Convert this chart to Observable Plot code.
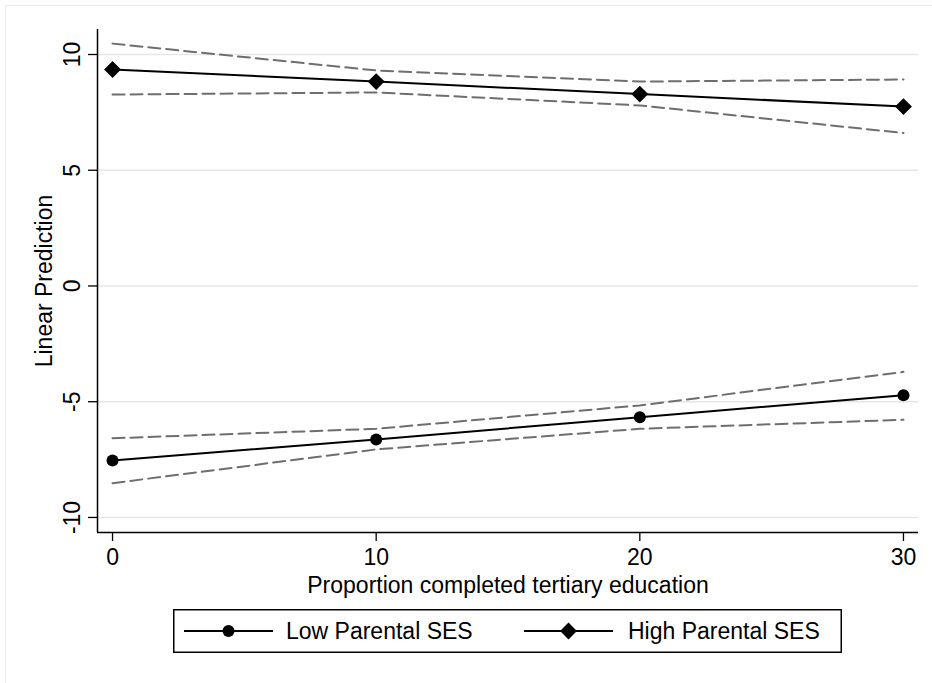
<!DOCTYPE html>
<html><head><meta charset="utf-8">
<script src="https://cdn.jsdelivr.net/npm/d3@7"></script>
<script src="https://cdn.jsdelivr.net/npm/@observablehq/plot@0.6"></script>
<style>
html,body{margin:0;padding:0;background:#fff;overflow:hidden;}
#wrap{position:relative;width:932px;height:683px;font-family:"Liberation Sans",Arial,sans-serif;}
#outer{position:absolute;left:5px;top:5px;width:1000px;height:1000px;border:1.5px solid #ececec;}
#chart{position:absolute;left:0;top:0;}
#legend{position:absolute;left:173px;top:609px;}
</style></head><body>
<div id="wrap"><div id="outer"></div><div id="chart"></div><div id="legend"></div></div>
<script>
// ---- data ----
const xValues = [0, 10, 20, 30];
const lowFit   = [-7.54, -6.63, -5.67, -4.72];
const lowUpper = [-6.58, -6.17, -5.16, -3.71];
const lowLower = [-8.52, -7.06, -6.17, -5.78];
const highFit   = [9.35, 8.83, 8.29, 7.75];
const highUpper = [10.47, 9.31, 8.83, 8.92];
const highLower = [8.27, 8.36, 7.80, 6.61];
const seriesNames = ["Low Parental SES", "High Parental SES"];
const xTicks = [0, 10, 20, 30];
const yTicks = [-10, -5, 0, 5, 10];
const xTitle = "Proportion completed tertiary education";
const yTitle = "Linear Prediction";
const xDomain = [-0.57, 30.57];
const yDomain = [-10.65, 11.08];

// ---- tables ----
const toRows = (ys, key) => xValues.map((x, i) => ({x, y: ys[i], key}));
const lowRows = toRows(lowFit, seriesNames[0]);
const highRows = toRows(highFit, seriesNames[1]);
const ciRows = [
  ...toRows(lowUpper, "lu"), ...toRows(lowLower, "ll"),
  ...toRows(highUpper, "hu"), ...toRows(highLower, "hl")
];

const FONT = '"Liberation Sans", Arial, Helvetica, sans-serif';

const chart = Plot.plot({
  width: 932, height: 600,
  marginTop: 29, marginBottom: 68, marginLeft: 97, marginRight: 14,
  style: {fontFamily: FONT, fontSize: "23px", color: "black", background: "transparent", overflow: "visible"},
  x: {domain: xDomain},
  y: {domain: yDomain},
  marks: [
    Plot.gridY(yTicks, {stroke: "#e6e6e6", strokeOpacity: 1, strokeWidth: 1.5}),
    Plot.line(ciRows, {x: "x", y: "y", z: "key", stroke: "#6e6e6e", strokeWidth: 2, strokeDasharray: "12,6"}),
    Plot.line(lowRows, {x: "x", y: "y", stroke: "black", strokeWidth: 2}),
    Plot.line(highRows, {x: "x", y: "y", stroke: "black", strokeWidth: 2}),
    Plot.dot(lowRows, {x: "x", y: "y", r: 6, fill: "black", symbol: "circle"}),
    Plot.dot(highRows, {x: "x", y: "y", r: 7.6, fill: "black", symbol: "diamond2"}),
    Plot.ruleX([xDomain[0]], {stroke: "black", strokeWidth: 1.5}),
    Plot.ruleY([yDomain[0]], {stroke: "black", strokeWidth: 1.5}),
    Plot.axisY(yTicks, {
      tickRotate: -90, tickSize: 9, tickPadding: 9, tickFormat: d => String(d),
      stroke: "black", strokeWidth: 1.3, fill: "black",
      textAnchor: "middle", lineAnchor: "bottom",
      label: yTitle, labelAnchor: "center", labelOffset: 62, labelArrow: "none"
    }),
    Plot.axisX(xTicks, {
      tickSize: 9, tickPadding: 7, tickFormat: d => String(d),
      stroke: "black", strokeWidth: 1.3, fill: "black",
      label: xTitle, labelAnchor: "center", labelOffset: 60, labelArrow: "none"
    })
  ]
});
document.getElementById("chart").appendChild(chart);

// ---- legend ----
const lw = 669, lh = 44;
const leg = d3.select("#legend").append("svg").attr("width", lw).attr("height", lh)
  .style("font-family", FONT).style("font-size", "23px").style("overflow", "visible");
leg.append("rect").attr("x", 0.75).attr("y", 0.75).attr("width", lw - 1.5).attr("height", lh - 1.5)
  .attr("fill", "white").attr("stroke", "black").attr("stroke-width", 1.5);
const items = [
  {name: seriesNames[0], x0: 11, x1: 100, sym: "circle", tx: 113},
  {name: seriesNames[1], x0: 351, x1: 440, sym: "diamond", tx: 455}
];
const cy = lh / 2;
items.forEach(it => {
  leg.append("line").attr("x1", it.x0).attr("x2", it.x1).attr("y1", cy).attr("y2", cy)
    .attr("stroke", "black").attr("stroke-width", 2);
  const cx = (it.x0 + it.x1) / 2;
  if (it.sym === "circle") {
    leg.append("circle").attr("cx", cx).attr("cy", cy).attr("r", 6).attr("fill", "black");
  } else {
    const r = 8.4;
    leg.append("path").attr("d", `M${cx},${cy - r}L${cx + r},${cy}L${cx},${cy + r}L${cx - r},${cy}Z`).attr("fill", "black");
  }
  leg.append("text").attr("x", it.tx).attr("y", cy).attr("dy", "0.35em").attr("fill", "black").text(it.name);
});
</script>
</body></html>
